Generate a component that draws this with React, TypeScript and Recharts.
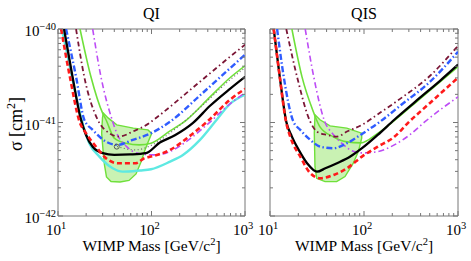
import React from 'react';
import { ComposedChart, Line, Scatter, XAxis, YAxis, ReferenceArea } from 'recharts';

const FONT = '"Liberation Serif", "Times New Roman", serif';
const AXIS = '#777';

// Axis ticks
const massTicks = [10, 20, 30, 40, 50, 60, 70, 80, 90, 100, 200, 300, 400, 500, 600, 700, 800, 900, 1000];
const sigmaTicks = [1e-42, 2e-42, 3e-42, 4e-42, 5e-42, 6e-42, 7e-42, 8e-42, 9e-42, 1e-41, 2e-41, 3e-41, 4e-41, 5e-41, 6e-41, 7e-41, 8e-41, 9e-41, 1e-40];
const massMajor = [10, 100, 1000];
const massExp = ['1', '2', '3'];
const sigmaMajor = [1e-42, 1e-41, 1e-40];
const sigmaExp = ['\u221242', '\u221241', '\u221240'];

// ---------- QI panel ----------
const qiBlackM = [11.6, 14.3, 17.4, 19.9, 23.5, 30.1, 40, 59, 87, 123, 178, 278, 423, 690, 1000];
const qiBlackS = [1e-40, 3.08e-41, 1.12e-41, 7.4e-42, 5.5e-42, 4.7e-42, 4.5e-42, 4.55e-42, 4.7e-42, 6.1e-42, 7.3e-42, 9.9e-42, 1.51e-41, 2.29e-41, 3.08e-41];
const qiRedM = [10.8, 13.4, 17.0, 19.9, 25.5, 32.6, 43.5, 68.3, 83.7, 98.8, 158, 258, 402, 691, 1000];
const qiRedS = [1e-40, 3.08e-41, 1.02e-41, 7.7e-42, 5.5e-42, 4.15e-42, 3.67e-42, 3.67e-42, 4.15e-42, 4.32e-42, 5.09e-42, 7.19e-42, 1.04e-41, 1.75e-41, 2.29e-41];
const qiCyanM = [11.0, 14.1, 18.1, 21.6, 27.7, 38.5, 49.2, 75.3, 98.8, 158, 217, 330, 498, 691, 1000];
const qiCyanS = [1e-40, 3.08e-41, 1.02e-41, 6.0e-42, 4.32e-42, 3.24e-42, 2.98e-42, 3.07e-42, 3.16e-42, 3.82e-42, 4.5e-42, 6.52e-42, 1.07e-41, 1.58e-41, 1.98e-41];
const qiBlueM = [12.2, 15.6, 19.1, 23.5, 32.6, 43.5, 63, 98.8, 158, 330, 691, 1000];
const qiBlueS = [1e-40, 3.08e-41, 1.07e-41, 8.34e-42, 6.25e-42, 5.76e-42, 6.52e-42, 7.69e-42, 1.02e-41, 1.95e-41, 3.8e-41, 5.31e-41];
const qiMaroonM = [15.6, 19.1, 26.6, 35.4, 45.2, 63, 94.7, 104.5, 330, 691, 1000];
const qiMaroonS = [1e-40, 3.08e-41, 1.07e-41, 7.69e-42, 7.07e-42, 8.0e-42, 9.84e-42, 1.06e-41, 2.73e-41, 5.05e-41, 6.79e-41];
const qiPurpleM = [23.5, 28.8, 38.5, 42.5, 54.3, 75.3, 113.7, 158, 258, 402, 691, 1000];
const qiPurpleS = [1e-40, 3.08e-41, 1.02e-41, 7.69e-42, 5.52e-42, 4.62e-42, 4.5e-42, 4.91e-42, 6.68e-42, 9.67e-42, 1.58e-41, 2.08e-41];
const qiGreenM = [17.2, 22.5, 30.1, 32.6, 40, 53.4, 74, 98.8, 158, 238, 423, 691, 1000];
const qiGreenS = [1e-40, 3.08e-41, 1.25e-41, 1.07e-41, 6.8e-42, 6.0e-42, 5.76e-42, 6.0e-42, 8.14e-42, 1.07e-41, 1.88e-41, 3.01e-41, 4.04e-41];
const qiGrayM = [42.8, 66.6, 96.4, 158, 330, 691, 1000];
const qiGrayS = [5.55e-42, 5.09e-42, 5.62e-42, 7.74e-42, 1.44e-41, 2.86e-41, 3.85e-41];
const qiCircleM = [42.5];
const qiCircleS = [5.52e-42];
const qiContourM = [30.5, 34.3, 42.5, 63.9, 91.7, 100.5, 94, 85.2, 77.2, 68.3, 57.5, 46.1, 36.9, 33.0, 31.4, 30.3, 29.3, 29.9];
const qiContourS = [1.26e-41, 1.12e-41, 9.44e-42, 8.7e-42, 8.34e-42, 7.65e-42, 6.52e-42, 5.09e-42, 3.79e-42, 2.82e-42, 2.4e-42, 2.31e-42, 2.34e-42, 2.62e-42, 3.52e-42, 5.09e-42, 7.69e-42, 1.12e-41];

// ---------- QIS panel ----------
const qisBlackM = [10.95, 12.7, 14.9, 17.1, 20.2, 24.8, 31.6, 38.8, 51.6, 71.5, 95.2, 140, 210, 394, 643, 1000];
const qisBlackS = [1e-40, 3.08e-41, 1.02e-41, 7.07e-42, 5.09e-42, 3.67e-42, 2.98e-42, 3.24e-42, 3.67e-42, 4.32e-42, 5.31e-42, 7.37e-42, 1.07e-41, 1.84e-41, 2.79e-41, 4.15e-41];
const qisRedM = [10.95, 12.7, 14.8, 16.4, 21.0, 26.8, 34.3, 47.6, 65.9, 95.2, 140, 210, 294, 504, 1000];
const qisRedS = [1e-40, 3.08e-41, 1.02e-41, 7.07e-42, 4.31e-42, 2.87e-42, 2.53e-42, 2.75e-42, 3.24e-42, 4.32e-42, 5.52e-42, 7.02e-42, 9.91e-42, 1.62e-41, 3.01e-41];
const qisBlueM = [11.9, 14.0, 17.6, 21.0, 26.8, 34.3, 47.6, 65.9, 95.2, 148, 242, 504, 1000];
const qisBlueS = [1e-40, 3.08e-41, 1.04e-41, 8.34e-42, 6.52e-42, 5.52e-42, 5.31e-42, 6.01e-42, 7.55e-42, 1.02e-41, 1.51e-41, 2.73e-41, 5.71e-41];
const qisMaroonM = [14.9, 19.4, 26.8, 31.6, 40.4, 51.6, 65.9, 95.2, 148, 242, 504, 1000];
const qisMaroonS = [1e-40, 3.08e-41, 1.02e-41, 8.0e-42, 7.37e-42, 7.07e-42, 8.0e-42, 9.44e-42, 1.27e-41, 1.79e-41, 3.16e-41, 6.62e-41];
const qisPurpleM = [23.7, 29.2, 38.0, 47.6, 60.8, 71.5, 95.2, 136.5, 210, 316, 446, 1000];
const qisPurpleS = [1e-40, 3.08e-41, 1.04e-41, 7.37e-42, 5.76e-42, 5.09e-42, 4.73e-42, 4.85e-42, 5.76e-42, 7.55e-42, 1.02e-41, 1.88e-41];
const qisGreenM = [17.1, 21.9, 29.2, 30.3, 34.0, 47.2, 65.9, 92.9, 137.5, 208.5, 394, 1000];
const qisGreenS = [1e-40, 3.08e-41, 1.27e-41, 1.15e-41, 8.98e-42, 7.02e-42, 6.2e-42, 6.05e-42, 7.55e-42, 1.04e-41, 1.79e-41, 3.95e-41];
const qisContourM = [30.1, 34.0, 43.5, 65.5, 94.5, 94.5, 87.0, 76.9, 62.8, 51.2, 38.5, 31.4, 30.1, 29.6];
const qisContourS = [1.21e-41, 1.07e-41, 9.21e-42, 8.7e-42, 7.69e-42, 6.8e-42, 4.89e-42, 3.67e-42, 2.64e-42, 2.33e-42, 2.33e-42, 2.53e-42, 3.37e-42, 7.69e-42];

const zip = (m: number[], s: number[]) => m.map((v, i) => ({ m: v, s: s[i] }));

type Curve = { m: number[]; s: number[]; color: string; width: number; dash?: string };

const styles = {
  black: { color: '#000000', width: 2.3 },
  red: { color: '#ff1a1a', width: 2.6, dash: '5 3' },
  blue: { color: '#2f5cff', width: 2.4, dash: '6 2.5 1.5 2.5' },
  maroon: { color: '#7b1636', width: 1.8, dash: '5 3 1.5 3' },
  purple: { color: '#bd4cf5', width: 1.6, dash: '6 3 1.5 3' },
  cyan: { color: '#5ee9e2', width: 2.4 },
  green: { color: '#6fe03a', width: 1.6 },
  gray: { color: '#6a6a6a', width: 1.2, dash: '1 2.5' },
};

const isMajor = (v: number, arr: number[]) => arr.findIndex((a) => Math.abs(v / a - 1) < 1e-6);

const PLOT_TOP = 29;
const PLOT_BOTTOM = 216;

type PanelProps = {
  left: number;
  width: number;
  yAxisWidth: number;
  rightMargin: number;
  curves: Curve[];
  contourM: number[];
  contourS: number[];
  circle?: { m: number[]; s: number[] };
  showYLabels: boolean;
};

function Panel(props: PanelProps) {
  const { left, width, yAxisWidth, rightMargin, curves, contourM, contourS, circle, showYLabels } = props;
  const plotLeft = yAxisWidth;
  const plotRight = width - rightMargin;

  const xTick = (p: any) => {
    const x = p.x;
    const idx = isMajor(p.payload.value, massMajor);
    const len = idx >= 0 ? 5 : 3;
    return (
      <g>
        <line x1={x} x2={x} y1={PLOT_BOTTOM} y2={PLOT_BOTTOM - len} stroke={AXIS} strokeWidth={1} />
        <line x1={x} x2={x} y1={PLOT_TOP} y2={PLOT_TOP + len} stroke={AXIS} strokeWidth={1} />
        {idx >= 0 && (
          <text x={x - 2} y={235} textAnchor="middle" fontFamily={FONT} fontSize={15} fill="#000">
            10
            <tspan dy={-6} fontSize={10.5}>{massExp[idx]}</tspan>
          </text>
        )}
      </g>
    );
  };

  const yTick = (p: any) => {
    const y = p.y;
    const idx = isMajor(p.payload.value, sigmaMajor);
    const len = idx >= 0 ? 5 : 3;
    return (
      <g>
        <line x1={plotLeft} x2={plotLeft + len} y1={y} y2={y} stroke={AXIS} strokeWidth={1} />
        <line x1={plotRight} x2={plotRight - len} y1={y} y2={y} stroke={AXIS} strokeWidth={1} />
        {showYLabels && idx >= 0 && (
          <text x={plotLeft - 2} y={y + 7} textAnchor="end" fontFamily={FONT} fontSize={15} fill="#000">
            10
            <tspan dy={-6} fontSize={10.5}>{sigmaExp[idx]}</tspan>
          </text>
        )}
      </g>
    );
  };

  const axes = (decor: boolean) => [
    <XAxis
      key="x"
      type="number"
      dataKey="m"
      scale="log"
      domain={[10, 1000]}
      allowDataOverflow
      ticks={massTicks}
      interval={0}
      height={45}
      axisLine={false}
      tickLine={false}
      tick={decor ? xTick : () => <g />}
    />,
    <YAxis
      key="y"
      type="number"
      dataKey="s"
      scale="log"
      domain={[1e-42, 1e-40]}
      allowDataOverflow
      ticks={sigmaTicks}
      interval={0}
      width={yAxisWidth}
      axisLine={false}
      tickLine={false}
      tick={decor ? yTick : () => <g />}
    />,
  ];

  const margin = { top: PLOT_TOP, right: rightMargin, bottom: 0, left: 0 };

  return (
    <>
      <div style={{ position: 'absolute', left, top: 0 }}>
        <ComposedChart width={width} height={261} margin={margin}>
          {axes(false)}
          <Scatter
            data={zip(contourM, contourS)}
            isAnimationActive={false}
            fill="#6fe03a"
            line={{ stroke: '#6fe03a', strokeWidth: 1.4, fill: '#c9f2b3' }}
            lineJointType="linearClosed"
            shape={() => <g />}
            legendType="none"
          />
        </ComposedChart>
      </div>
      <div style={{ position: 'absolute', left, top: 0 }}>
        <ComposedChart width={width} height={261} margin={margin}>
          {axes(true)}
          {curves.map((c, i) => (
            <Line
              key={i}
              data={zip(c.m, c.s)}
              dataKey="s"
              type="monotoneX"
              stroke={c.color}
              strokeWidth={c.width}
              strokeDasharray={c.dash}
              dot={false}
              activeDot={false}
              isAnimationActive={false}
              legendType="none"
            />
          ))}
          {circle && (
            <Scatter
              data={zip(circle.m, circle.s)}
              isAnimationActive={false}
              shape={(p: any) => <circle cx={p.cx} cy={p.cy} r={2.5} fill="none" stroke="#555" strokeWidth={1} />}
              legendType="none"
            />
          )}
          <ReferenceArea x1={10} x2={1000} y1={1e-42} y2={1e-40} fill="none" stroke={AXIS} strokeWidth={1} ifOverflow="visible" />
        </ComposedChart>
      </div>
    </>
  );
}

const qiCurves: Curve[] = [
  { m: qiCyanM, s: qiCyanS, ...styles.cyan },
  { m: qiGreenM, s: qiGreenS, ...styles.green },
  { m: qiGrayM, s: qiGrayS, ...styles.gray },
  { m: qiPurpleM, s: qiPurpleS, ...styles.purple },
  { m: qiMaroonM, s: qiMaroonS, ...styles.maroon },
  { m: qiBlueM, s: qiBlueS, ...styles.blue },
  { m: qiBlackM, s: qiBlackS, ...styles.black },
  { m: qiRedM, s: qiRedS, ...styles.red },
];

const qisCurves: Curve[] = [
  { m: qisGreenM, s: qisGreenS, ...styles.green },
  { m: qisPurpleM, s: qisPurpleS, ...styles.purple },
  { m: qisMaroonM, s: qisMaroonS, ...styles.maroon },
  { m: qisBlueM, s: qisBlueS, ...styles.blue },
  { m: qisBlackM, s: qisBlackS, ...styles.black },
  { m: qisRedM, s: qisRedS, ...styles.red },
];

export default function App() {
  return (
    <div style={{ position: 'absolute', left: 0, top: 0, width: 471, height: 261, background: '#fff' }}>
      <Panel
        left={0}
        width={262}
        yAxisWidth={58}
        rightMargin={17}
        curves={qiCurves}
        contourM={qiContourM}
        contourS={qiContourS}
        circle={{ m: qiCircleM, s: qiCircleS }}
        showYLabels
      />
      <Panel
        left={230}
        width={241}
        yAxisWidth={40}
        rightMargin={13}
        curves={qisCurves}
        contourM={qisContourM}
        contourS={qisContourS}
        showYLabels={false}
      />
      <svg width={471} height={261} style={{ position: 'absolute', left: 0, top: 0, pointerEvents: 'none' }}>
        <text x={151.5} y={19} textAnchor="middle" fontFamily={FONT} fontSize={16} fill="#000">QI</text>
        <text x={364} y={19} textAnchor="middle" fontFamily={FONT} fontSize={16} fill="#000">QIS</text>
        <text x={151.5} y={251} textAnchor="middle" fontFamily={FONT} fontSize={15.5} fill="#000">
          WIMP Mass [GeV/c<tspan dy={-6} fontSize={10.5}>2</tspan><tspan dy={6}>]</tspan>
        </text>
        <text x={364} y={251} textAnchor="middle" fontFamily={FONT} fontSize={15.5} fill="#000">
          WIMP Mass [GeV/c<tspan dy={-6} fontSize={10.5}>2</tspan><tspan dy={6}>]</tspan>
        </text>
        <text x={22} y={124} textAnchor="middle" fontFamily={FONT} fontSize={18} fill="#000" transform="rotate(-90, 22, 124)">
          σ [cm<tspan dy={-7} fontSize={12}>2</tspan><tspan dy={7}>]</tspan>
        </text>
      </svg>
    </div>
  );
}
